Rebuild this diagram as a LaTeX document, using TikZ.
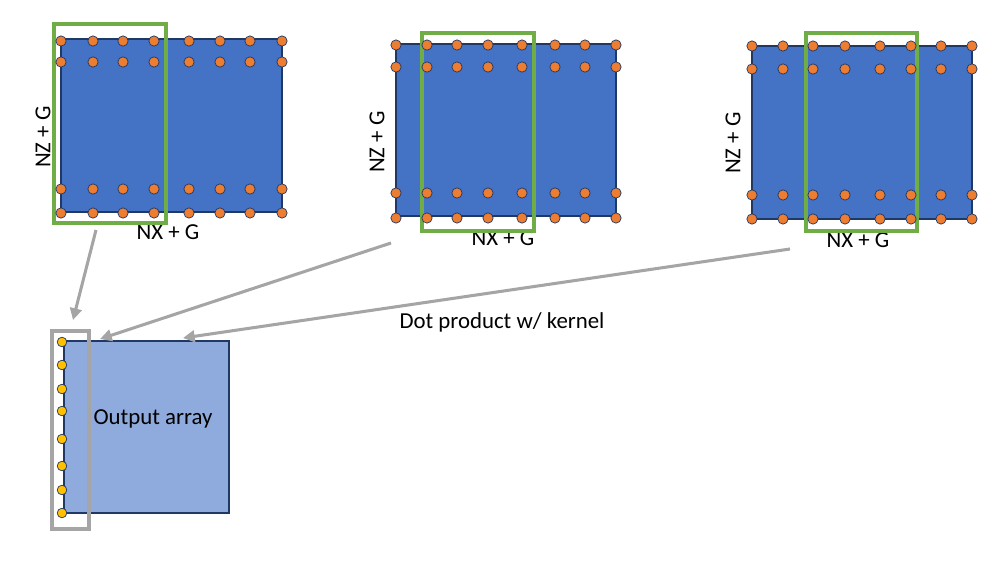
\documentclass[tikz,border=0pt]{standalone}
\usepackage{fontspec}
\setmainfont{Carlito}
\usetikzlibrary{arrows.meta}
\definecolor{gridblue}{HTML}{4472C4}
\definecolor{outblue}{HTML}{8FAADC}
\definecolor{edgeblue}{HTML}{1F3864}
\definecolor{dotorange}{HTML}{ED7D31}
\definecolor{dotyellow}{HTML}{FFC000}
\definecolor{kergreen}{HTML}{70AD47}
\definecolor{arrgray}{HTML}{A5A5A5}
\tikzset{
 panel/.style={fill=gridblue,draw=edgeblue,line width=0.9pt},
 kernelbox/.style={draw=kergreen,line width=3.2pt},
 dot/.style={fill=dotorange,draw=edgeblue,line width=0.6pt},
 ydot/.style={fill=dotyellow,draw=edgeblue,line width=0.6pt},
 arr/.style={draw=arrgray,line width=2.6pt,-{Triangle[length=10pt,width=10pt]}},
 lbl/.style={font=\fontsize{19.5}{22}\selectfont,inner sep=0pt}
}
\begin{document}
\begin{tikzpicture}[x=0.03cm,y=-0.03cm]
 \useasboundingbox (0,0) rectangle (997,562);
 % first panel
 \draw[panel] (61,39) rectangle (282,212);
 \node[lbl] (nx1) at (168,232) {NX + G};
 \node[lbl,rotate=90] (nz1) at (43,137) {NZ + G};
 \draw[kernelbox] (54,24) rectangle (166,223);
 \foreach \y in {41,62,189,213}
  \foreach \x in {61,93,123,154,189,220,250,282}
   \filldraw[dot] (\x,\y) circle (4.4pt);
 % second panel
 \draw[panel] (396,44) rectangle (616,216);
 \node[lbl] (nx2) at (503,238) {NX + G};
 \node[lbl,rotate=90] (nz2) at (377,142) {NZ + G};
 \draw[kernelbox] (422,33) rectangle (534,231);
 \foreach \y in {45,67,193,218}
  \foreach \x in {396,427,457,488,522,555,585,616}
   \filldraw[dot] (\x,\y) circle (4.4pt);
 % third panel
 \draw[panel] (752,46) rectangle (972,219);
 \node[lbl] (nx3) at (858,240) {NX + G};
 \node[lbl,rotate=90] (nz3) at (733,143) {NZ + G};
 \draw[kernelbox] (806,33) rectangle (917,231);
 \foreach \y in {46,69,195,219}
  \foreach \x in {752,783,813,845,880,911,941,972}
   \filldraw[dot] (\x,\y) circle (4.4pt);
 % output array
 \draw[fill=outblue,draw=edgeblue,line width=0.9pt] (64,341) rectangle (229,513);
 \node[lbl] (out) at (153,419) {Output array};
 \draw[draw=arrgray,line width=3pt] (52,331) rectangle (89,529);
 \foreach \y in {342,365,389,411,439,466,490,513}
  \filldraw[ydot] (62,\y) circle (4.1pt);
 % arrows
 \coordinate (from1) at (96,230);
 \coordinate (from2) at (391,243);
 \coordinate (from3) at (790,249);
 \coordinate (to1) at (73,320);
 \coordinate (to2) at (100,339);
 \coordinate (to3) at (183,338);
 \draw[arr] (from1) -- (to1);
 \draw[arr] (from2) -- (to2);
 \draw[arr] (from3) -- (to3);
 \node[lbl] (dotp) at (502,322) {Dot product w/ kernel};
\end{tikzpicture}
\end{document}
